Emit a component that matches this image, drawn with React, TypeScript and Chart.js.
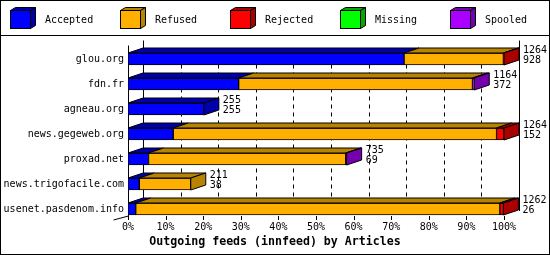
import { useEffect, useRef } from 'react';
import { Chart, registerables } from 'chart.js';

Chart.register(...registerables);

const categories = [
  'glou.org',
  'fdn.fr',
  'agneau.org',
  'news.gegeweb.org',
  'proxad.net',
  'news.trigofacile.com',
  'usenet.pasdenom.info',
];
const offered = [1264, 1164, 255, 1264, 735, 211, 1262];
const accepted = [928, 372, 255, 152, 69, 38, 26];
const refused = [334, 786, 0, 1087, 663, 173, 1224];
const rejected = [2, 0, 0, 25, 0, 0, 12];
const missing = [0, 0, 0, 0, 0, 0, 0];
const spooled = [0, 6, 0, 0, 3, 0, 0];

const seriesNames = ['Accepted', 'Refused', 'Rejected', 'Missing', 'Spooled'];
const seriesValues = [accepted, refused, rejected, missing, spooled];
const frontColors = ['#0000FF', '#FFAF00', '#FF0000', '#00FF00', '#AA00FF'];
const darkColors = ['#0000AA', '#B88400', '#AA0000', '#00AA00', '#7400B0'];
const xTickValues = [0, 10, 20, 30, 40, 50, 60, 70, 80, 90, 100];
const xTitle = 'Outgoing feeds (innfeed) by Articles';

const FONT = '"DejaVu Sans Mono", monospace';
const DX = 15;
const DY = 5;

const maxOffered = Math.max(...offered);
const toPct = (arr: number[]) => arr.map((v) => (v > 0 ? (v / maxOffered) * 100 : null));

function poly(ctx: CanvasRenderingContext2D, pts: number[][], fill: string) {
  ctx.beginPath();
  ctx.moveTo(pts[0][0], pts[0][1]);
  for (let i = 1; i < pts.length; i++) ctx.lineTo(pts[i][0], pts[i][1]);
  ctx.closePath();
  ctx.fillStyle = fill;
  ctx.fill();
  ctx.stroke();
}

function line(ctx: CanvasRenderingContext2D, x1: number, y1: number, x2: number, y2: number) {
  ctx.beginPath();
  ctx.moveTo(x1, y1);
  ctx.lineTo(x2, y2);
  ctx.stroke();
}

const threeD = {
  id: 'threeD',
  beforeDatasetsDraw(chart: any) {
    const { ctx, chartArea } = chart;
    const xs = chart.scales.x;
    const frontTop = chartArea.top - 1;
    const frontBottom = Math.round(chartArea.bottom - 6);
    ctx.save();
    ctx.strokeStyle = '#000';
    ctx.lineWidth = 1;
    ctx.setLineDash([4, 4]);
    for (const v of xTickValues.slice(1, -1)) {
      const px = Math.round(xs.getPixelForValue(v) + DX) + 0.5;
      line(ctx, px, chartArea.top + 2, px, frontBottom - DY);
    }
    ctx.setLineDash([]);
    const b0 = Math.round(xs.getPixelForValue(0) + DX) + 0.5;
    const b100 = Math.round(xs.getPixelForValue(100) + DX) + 0.5;
    line(ctx, b0, frontTop - DY, b0, frontBottom - DY);
    line(ctx, b100, frontTop - DY, b100, frontBottom - DY);
    const f0 = Math.round(xs.getPixelForValue(0)) + 0.5;
    line(ctx, f0, frontTop, f0, frontBottom + 4);
    for (const v of xTickValues) {
      const px = Math.round(xs.getPixelForValue(v)) + 0.5;
      line(ctx, px, frontBottom, px, frontBottom + 4);
    }
    line(ctx, f0 - DX, frontBottom + 4, f0, frontBottom);
    ctx.restore();
  },
  afterDatasetsDraw(chart: any) {
    const { ctx } = chart;
    ctx.save();
    ctx.strokeStyle = '#000';
    ctx.lineWidth = 1;
    for (let i = 0; i < categories.length; i++) {
      let last: any = null;
      let lastColor = '';
      let top = 0;
      let bottom = 0;
      for (let d = 0; d < seriesValues.length; d++) {
        if (!(seriesValues[d][i] > 0)) continue;
        const el = chart.getDatasetMeta(d).data[i];
        const p = el.getProps(['x', 'y', 'base', 'height'], true);
        const l = Math.min(p.x, p.base);
        const r = Math.max(p.x, p.base);
        top = p.y - p.height / 2;
        bottom = p.y + p.height / 2;
        poly(
          ctx,
          [
            [l, top],
            [l + DX, top - DY],
            [r + DX, top - DY],
            [r, top],
          ],
          darkColors[d]
        );
        last = { l, r };
        lastColor = darkColors[d];
      }
      if (last) {
        const r = last.r;
        poly(
          ctx,
          [
            [r, top],
            [r + DX, top - DY],
            [r + DX, bottom - DY],
            [r, bottom],
          ],
          lastColor
        );
        ctx.fillStyle = '#000';
        ctx.font = `10px ${FONT}`;
        ctx.textBaseline = 'middle';
        ctx.textAlign = 'left';
        ctx.fillText(String(offered[i]), r + DX + 4, top - 3);
        ctx.fillText(String(accepted[i]), r + DX + 4, top + 7.5);
      }
    }
    ctx.restore();
  },
  afterDraw(chart: any) {
    const { ctx, width, height } = chart;
    ctx.save();
    ctx.strokeStyle = '#000';
    ctx.lineWidth = 1;
    ctx.strokeRect(0.5, 0.5, width - 1, height - 1);
    line(ctx, 0, 35.5, width, 35.5);
    ctx.font = `10px ${FONT}`;
    ctx.textBaseline = 'middle';
    ctx.textAlign = 'left';
    for (let d = 0; d < seriesNames.length; d++) {
      const bx = 10.5 + d * 110;
      const by = 10.5;
      poly(
        ctx,
        [
          [bx, by],
          [bx + 5, by - 3],
          [bx + 25, by - 3],
          [bx + 20, by],
        ],
        darkColors[d]
      );
      poly(
        ctx,
        [
          [bx + 20, by],
          [bx + 25, by - 3],
          [bx + 25, by + 15],
          [bx + 20, by + 18],
        ],
        darkColors[d]
      );
      ctx.fillStyle = frontColors[d];
      ctx.fillRect(bx, by, 20, 18);
      ctx.strokeRect(bx, by, 20, 18);
      ctx.fillStyle = '#000';
      ctx.fillText(seriesNames[d], bx + 34.5, 20);
    }
    ctx.restore();
  },
};

export default function App() {
  const ref = useRef<HTMLCanvasElement>(null);
  useEffect(() => {
    document.body.style.margin = '0';
    const canvas = ref.current;
    if (!canvas) return;
    const chart = new Chart(canvas, {
      type: 'bar',
      data: {
        labels: categories,
        datasets: seriesNames.map((name, d) => ({
          label: name,
          data: toPct(seriesValues[d]) as any,
          backgroundColor: frontColors[d],
          borderColor: '#000',
          borderWidth: 1,
          borderSkipped: false,
          barThickness: 12,
        })),
      },
      options: {
        indexAxis: 'y',
        responsive: false,
        animation: false,
        devicePixelRatio: 1,
        layout: { padding: { left: 0, right: 0, top: 46.5, bottom: 0 } },
        plugins: {
          legend: { display: false },
          tooltip: { enabled: false },
          title: {
            display: true,
            position: 'bottom',
            text: xTitle,
            color: '#000',
            font: { family: FONT, size: 11.6, weight: 'bold' },
            padding: { top: 3, bottom: 6 },
          },
        },
        scales: {
          x: {
            type: 'linear',
            stacked: true,
            min: 0,
            max: 100,
            afterBuildTicks: (s: any) => {
              s.ticks = xTickValues.map((v) => ({ value: v }));
            },
            ticks: {
              color: '#000',
              font: { family: FONT, size: 10 },
              padding: 0,
              maxRotation: 0,
              autoSkip: false,
              callback: (v: any) => `${v}%`,
            },
            grid: { display: false, drawTicks: false },
            border: { display: false },
            afterFit: (s: any) => {
              s.height = 255 - 22.92 - 221.5;
            },
          },
          y: {
            type: 'category',
            stacked: true,
            ticks: {
              color: '#000',
              font: { family: FONT, size: 10 },
              padding: 4,
              autoSkip: false,
            },
            grid: { display: false, drawTicks: false },
            border: { display: false },
            afterFit: (s: any) => {
              s.width = 128;
            },
          },
          yRight: {
            type: 'category',
            position: 'right',
            display: true,
            ticks: { display: false },
            grid: { display: false, drawTicks: false },
            border: { display: false },
            afterFit: (s: any) => {
              s.width = 46;
            },
          },
        },
      },
      plugins: [threeD],
    });
    return () => chart.destroy();
  }, []);
  return <canvas ref={ref} width={550} height={255} style={{ display: 'block' }} />;
}
